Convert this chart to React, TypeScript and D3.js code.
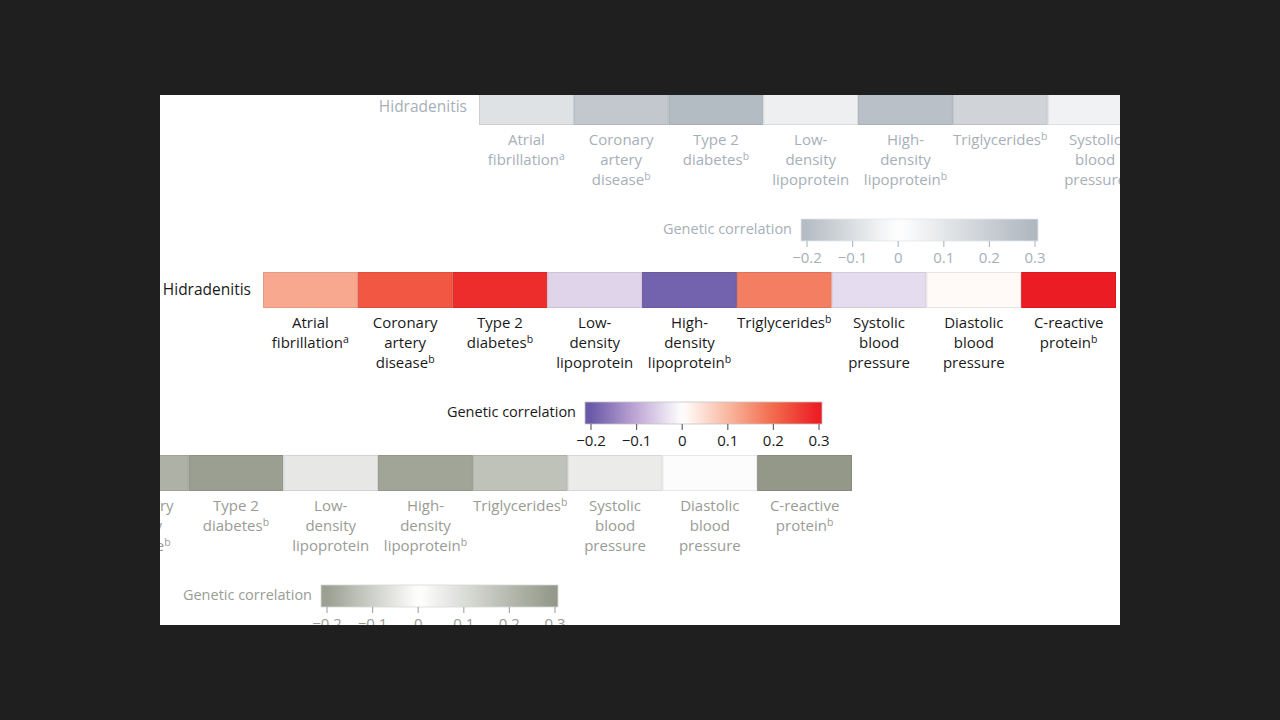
import React from "react";
import * as d3 from "d3";

// ---------- data ----------
const categories = [
  "Atrial fibrillation",
  "Coronary artery disease",
  "Type 2 diabetes",
  "Low-density lipoprotein",
  "High-density lipoprotein",
  "Triglycerides",
  "Systolic blood pressure",
  "Diastolic blood pressure",
  "C-reactive protein",
];
const labelLines = [
  ["Atrial", "fibrillation"],
  ["Coronary", "artery", "disease"],
  ["Type 2", "diabetes"],
  ["Low-", "density", "lipoprotein"],
  ["High-", "density", "lipoprotein"],
  ["Triglycerides"],
  ["Systolic", "blood", "pressure"],
  ["Diastolic", "blood", "pressure"],
  ["C-reactive", "protein"],
];
const footnotes = ["a", "b", "b", "", "b", "b", "", "", "b"];
const correlations = [0.12, 0.225, 0.28, -0.05, -0.19, 0.175, -0.04, 0.008, 0.3];
const rowLabel = "Hidradenitis";
const legendTitle = "Genetic correlation";
const legendTicks = [-0.2, -0.1, 0, 0.1, 0.2, 0.3];
const colorStops = [-0.2, -0.1, 0, 0.1, 0.2, 0.3];
const colorValues = ["#6a5aa8", "#c0a8d6", "#ffffff", "#f9b8a0", "#f26a4c", "#ec1c24"];

// ---------- styles ----------
const FONT = "'Open Sans', 'Noto Sans', sans-serif";
const W = 1280;
const H = 720;
const panel = { x: 160, y: 95, w: 960, h: 530 };

const colorScale = d3
  .scaleLinear<string>()
  .domain(colorStops)
  .range(colorValues)
  .interpolate(d3.interpolateRgb)
  .clamp(true);

type Variant = {
  id: string;
  dx: number;
  dy: number;
  alpha: number | null;
  tint: [number, number, number];
  text: string;
  tick: string;
};

const variants: Variant[] = [
  { id: "top", dx: 216, dy: -183, alpha: 0.44, tint: [-11, 0, 11], text: "#a7afb8", tick: "#b5bcc4" },
  { id: "main", dx: 0, dy: 0, alpha: null, tint: [0, 0, 0], text: "#1a1a1a", tick: "#666666" },
  { id: "bottom", dx: -264, dy: 183, alpha: 0.66, tint: [0, 5, -9], text: "#999c95", tick: "#aaada6" },
];

function tone(c: string, v: Variant): string {
  if (v.alpha === null) return c;
  const rgb = d3.rgb(c);
  const L = 0.299 * rgb.r + 0.587 * rgb.g + 0.114 * rgb.b;
  const base = 255 - v.alpha * (255 - L);
  const k = (255 - base) / 100;
  return d3
    .rgb(
      Math.min(255, base + v.tint[0] * k),
      Math.min(255, base + v.tint[1] * k),
      Math.min(255, base + v.tint[2] * k)
    )
    .formatHex();
}

// layout of the main copy
const cellsX0 = 263;
const cellsX1 = 1116;
const cellY = 272;
const cellH = 36;
const band = d3.scaleBand<string>().domain(categories).range([cellsX0, cellsX1]).padding(0);
const legendScale = d3.scaleLinear().domain([-0.2, 0.3]).range([591, 819]);
const legendBar = { x0: 585, x1: 822, y: 402, h: 22 };

function Copy({ v }: { v: Variant }) {
  const gradId = `grad-${v.id}`;
  const stops = d3.range(0, 1.0001, 0.025).map((t) => {
    const x = legendBar.x0 + t * (legendBar.x1 - legendBar.x0);
    return { t, c: tone(colorScale(legendScale.invert(x)), v) };
  });
  return (
    <g transform={`translate(${v.dx},${v.dy})`} fontFamily={FONT}>
      <defs>
        <linearGradient id={gradId} x1="0" x2="1" y1="0" y2="0">
          {stops.map((s, i) => (
            <stop key={i} offset={s.t} stopColor={s.c} />
          ))}
        </linearGradient>
      </defs>
      <text x={251} y={295} textAnchor="end" fontSize={15.5} fill={v.text}>
        {rowLabel}
      </text>
      {categories.map((cat, i) => {
        const fill = tone(colorScale(correlations[i]), v);
        const stroke = d3.color(fill)!.darker(0.25).formatHex();
        return (
          <rect
            key={cat}
            x={band(cat)! + 0.5}
            y={cellY + 0.5}
            width={band.bandwidth() - 1}
            height={cellH - 1}
            fill={fill}
            stroke={stroke}
            strokeWidth={1}
          />
        );
      })}
      {categories.map((cat, i) => {
        const cx = band(cat)! + band.bandwidth() / 2;
        const lines = labelLines[i];
        return (
          <text key={cat} textAnchor="middle" fontSize={15} fill={v.text}>
            {lines.map((ln, j) => (
              <tspan key={j} x={cx} y={328 + j * 20}>
                {ln}
                {j === lines.length - 1 && footnotes[i] ? (
                  <tspan fontSize={10.5} dy={-5}>
                    {footnotes[i]}
                  </tspan>
                ) : null}
              </tspan>
            ))}
          </text>
        );
      })}
      <text x={576} y={417} textAnchor="end" fontSize={14.5} fill={v.text}>
        {legendTitle}
      </text>
      <rect
        x={legendBar.x0}
        y={legendBar.y}
        width={legendBar.x1 - legendBar.x0}
        height={legendBar.h}
        fill={`url(#${gradId})`}
        stroke={tone("#c4c4c4", v)}
        strokeWidth={0.8}
      />
      {legendTicks.map((t) => (
        <g key={t} transform={`translate(${legendScale(t)},0)`}>
          <line y1={legendBar.y + legendBar.h} y2={legendBar.y + legendBar.h + 6} stroke={v.tick} strokeWidth={1.2} />
          <text y={446} textAnchor="middle" fontSize={15} fill={v.text}>
            {t === 0 ? "0" : d3.format(".1f")(t)}
          </text>
        </g>
      ))}
    </g>
  );
}

export default function App() {
  return (
    <div style={{ position: "fixed", left: 0, top: 0, width: W, height: H }}>
      <svg width={W} height={H} style={{ display: "block" }}>
        <defs>
          <clipPath id="panel-clip">
            <rect x={panel.x} y={panel.y} width={panel.w} height={panel.h} />
          </clipPath>
        </defs>
        <rect x={0} y={0} width={W} height={H} fill="#1f1f1f" />
        <rect x={panel.x} y={panel.y} width={panel.w} height={panel.h} fill="#ffffff" />
        <g clipPath="url(#panel-clip)">
          {variants.map((v) => (
            <Copy key={v.id} v={v} />
          ))}
        </g>
      </svg>
    </div>
  );
}
